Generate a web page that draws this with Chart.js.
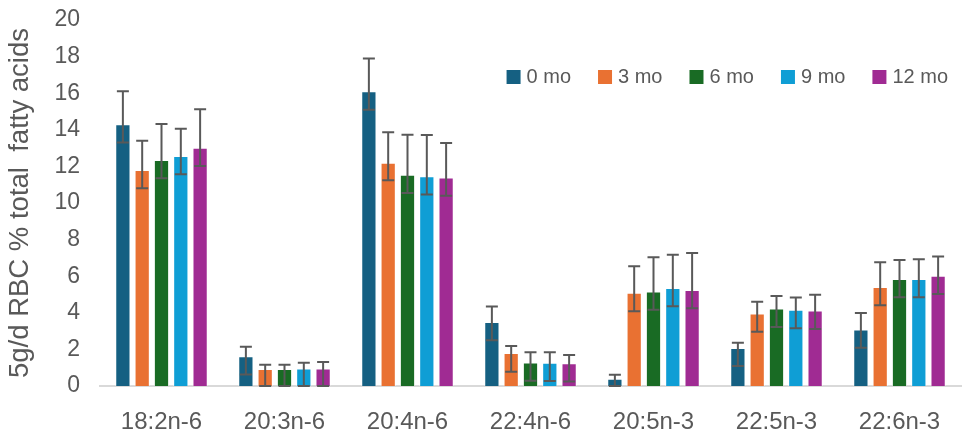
<!DOCTYPE html>
<html>
<head>
<meta charset="utf-8">
<script src="https://cdn.jsdelivr.net/npm/chart.js@4.4.1/dist/chart.umd.min.js"></script>
<style>
  html, body { margin: 0; padding: 0; background: #ffffff; }
  #wrap { width: 967px; height: 432px; }
</style>
</head>
<body>
<div id="wrap"><canvas id="fattyAcids"></canvas></div>
<script>
// fatty acid categories on the x axis
var acids = ['18:2n-6', '20:3n-6', '20:4n-6', '22:4n-6', '20:5n-3', '22:5n-3', '22:6n-3'];
var months = ['0 mo', '3 mo', '6 mo', '9 mo', '12 mo'];

// mean % of total fatty acids for each time point
var mo0  = [14.3, 1.63, 16.1, 3.5, 0.4, 2.07, 3.09];
var mo3  = [11.8, 0.93, 12.2, 1.8, 5.09, 3.96, 5.41];
var mo6  = [12.35, 0.93, 11.54, 1.29, 5.16, 4.23, 5.85];
var mo9  = [12.57, 0.96, 11.46, 1.27, 5.36, 4.16, 5.85];
var mo12 = [13.02, 0.96, 11.39, 1.24, 5.25, 4.12, 6.03];

// error bar sizes above the mean
var plus0  = [1.81, 0.51, 1.8, 0.85, 0.22, 0.29, 0.9];
var plus3  = [1.6, 0.23, 1.67, 0.38, 1.45, 0.65, 1.35];
var plus6  = [1.97, 0.23, 2.19, 0.56, 1.87, 0.69, 1.04];
var plus9  = [1.49, 0.31, 2.25, 0.58, 1.81, 0.67, 1.07];
var plus12 = [2.1, 0.35, 1.89, 0.45, 2.02, 0.86, 1.05];

// error bar sizes below the mean
var minus0  = [1.0, 1.0, 1.0, 1.0, 1.0, 0.98, 1.0];
var minus3  = [1.0, 1.0, 0.96, 1.02, 1.0, 1.0, 1.0];
var minus6  = [1.0, 1.0, 1.0, 1.0, 1.0, 1.0, 1.0];
var minus9  = [1.0, 1.0, 1.0, 1.0, 1.0, 1.0, 1.0];
var minus12 = [1.0, 1.0, 1.0, 1.0, 1.0, 1.0, 1.0];

var colors = ['#156082', '#E97132', '#196B24', '#0F9ED5', '#A02B93'];
var values = [mo0, mo3, mo6, mo9, mo12];
var plusErr = [plus0, plus3, plus6, plus9, plus12];
var minusErr = [minus0, minus3, minus6, minus9, minus12];

var textGrey = '#595959';
var fontFamily = '"Liberation Sans", Arial, sans-serif';

var datasets = months.map(function (m, i) {
    return {
        label: m,
        data: values[i],
        errPlus: plusErr[i],
        errMinus: minusErr[i],
        backgroundColor: colors[i],
        borderColor: 'rgba(255,255,255,0.55)',
        borderWidth: 1,
        categoryPercentage: 0.785,
        barPercentage: 0.79
    };
});

// draws the T shaped error bars on top of every bar
var errorBars = {
    id: 'errorBars',
    afterDatasetsDraw: function (chart) {
        var ctx = chart.ctx;
        var y = chart.scales.y;
        ctx.save();
        ctx.strokeStyle = '#595959';
        ctx.lineWidth = 2;
        chart.data.datasets.forEach(function (ds, di) {
            var meta = chart.getDatasetMeta(di);
            meta.data.forEach(function (bar, i) {
                var v = ds.data[i];
                var top = y.getPixelForValue(v + ds.errPlus[i]);
                var bottom = y.getPixelForValue(Math.max(0, v - ds.errMinus[i]));
                var half = 6;
                ctx.beginPath();
                ctx.moveTo(bar.x, top);
                ctx.lineTo(bar.x, bottom);
                ctx.moveTo(bar.x - half, top);
                ctx.lineTo(bar.x + half, top);
                ctx.moveTo(bar.x - half, bottom);
                ctx.lineTo(bar.x + half, bottom);
                ctx.stroke();
            });
        });
        ctx.restore();
    }
};

// legend drawn inside the plot, right aligned near the top
var insideLegend = {
    id: 'insideLegend',
    afterDraw: function (chart) {
        var ctx = chart.ctx;
        var area = chart.chartArea;
        var box = 14, gap = 6, spacing = 27;
        ctx.save();
        ctx.font = '20px ' + fontFamily;
        ctx.textBaseline = 'middle';
        var widths = chart.data.datasets.map(function (ds) {
            return box + gap + ctx.measureText(ds.label).width;
        });
        var total = widths.reduce(function (a, b) { return a + b; }, 0) + spacing * (widths.length - 1);
        var x = area.right - 13 - total;
        var cy = 77;
        chart.data.datasets.forEach(function (ds, i) {
            ctx.fillStyle = ds.backgroundColor;
            ctx.fillRect(x, cy - box / 2, box, box);
            ctx.fillStyle = textGrey;
            ctx.fillText(ds.label, x + box + gap, cy);
            x += widths[i] + spacing;
        });
        ctx.restore();
    }
};

var ctx = document.getElementById('fattyAcids').getContext('2d');
var chart = new Chart(ctx, {
    type: 'bar',
    data: {
        labels: acids,
        datasets: datasets
    },
    options: {
        responsive: true,
        maintainAspectRatio: false,
        animation: false,
        layout: {
            padding: { top: 20, right: 6, left: 0, bottom: 0 }
        },
        plugins: {
            legend: { display: false },
            tooltip: { enabled: false }
        },
        scales: {
            x: {
                grid: { display: false, drawTicks: false },
                border: { display: true, color: '#d9d9d9', width: 2 },
                ticks: {
                    color: textGrey,
                    padding: 22,
                    font: { family: fontFamily, size: 24 }
                },
                afterFit: function (scale) { scale.height = 46; }
            },
            y: {
                min: 0,
                max: 20,
                grid: { display: false, drawTicks: false },
                border: { display: false },
                ticks: {
                    stepSize: 2,
                    color: textGrey,
                    padding: 20,
                    font: { family: fontFamily, size: 23 }
                },
                title: {
                    display: true,
                    text: '5g/d RBC % total  fatty acids',
                    color: textGrey,
                    font: { family: fontFamily, size: 27.5 }
                },
                afterFit: function (scale) {
                    scale.width = 100;
                    scale.paddingTop = 0;
                    scale.paddingBottom = 0;
                }
            }
        }
    },
    plugins: [errorBars, insideLegend]
});
</script>
</body>
</html>
